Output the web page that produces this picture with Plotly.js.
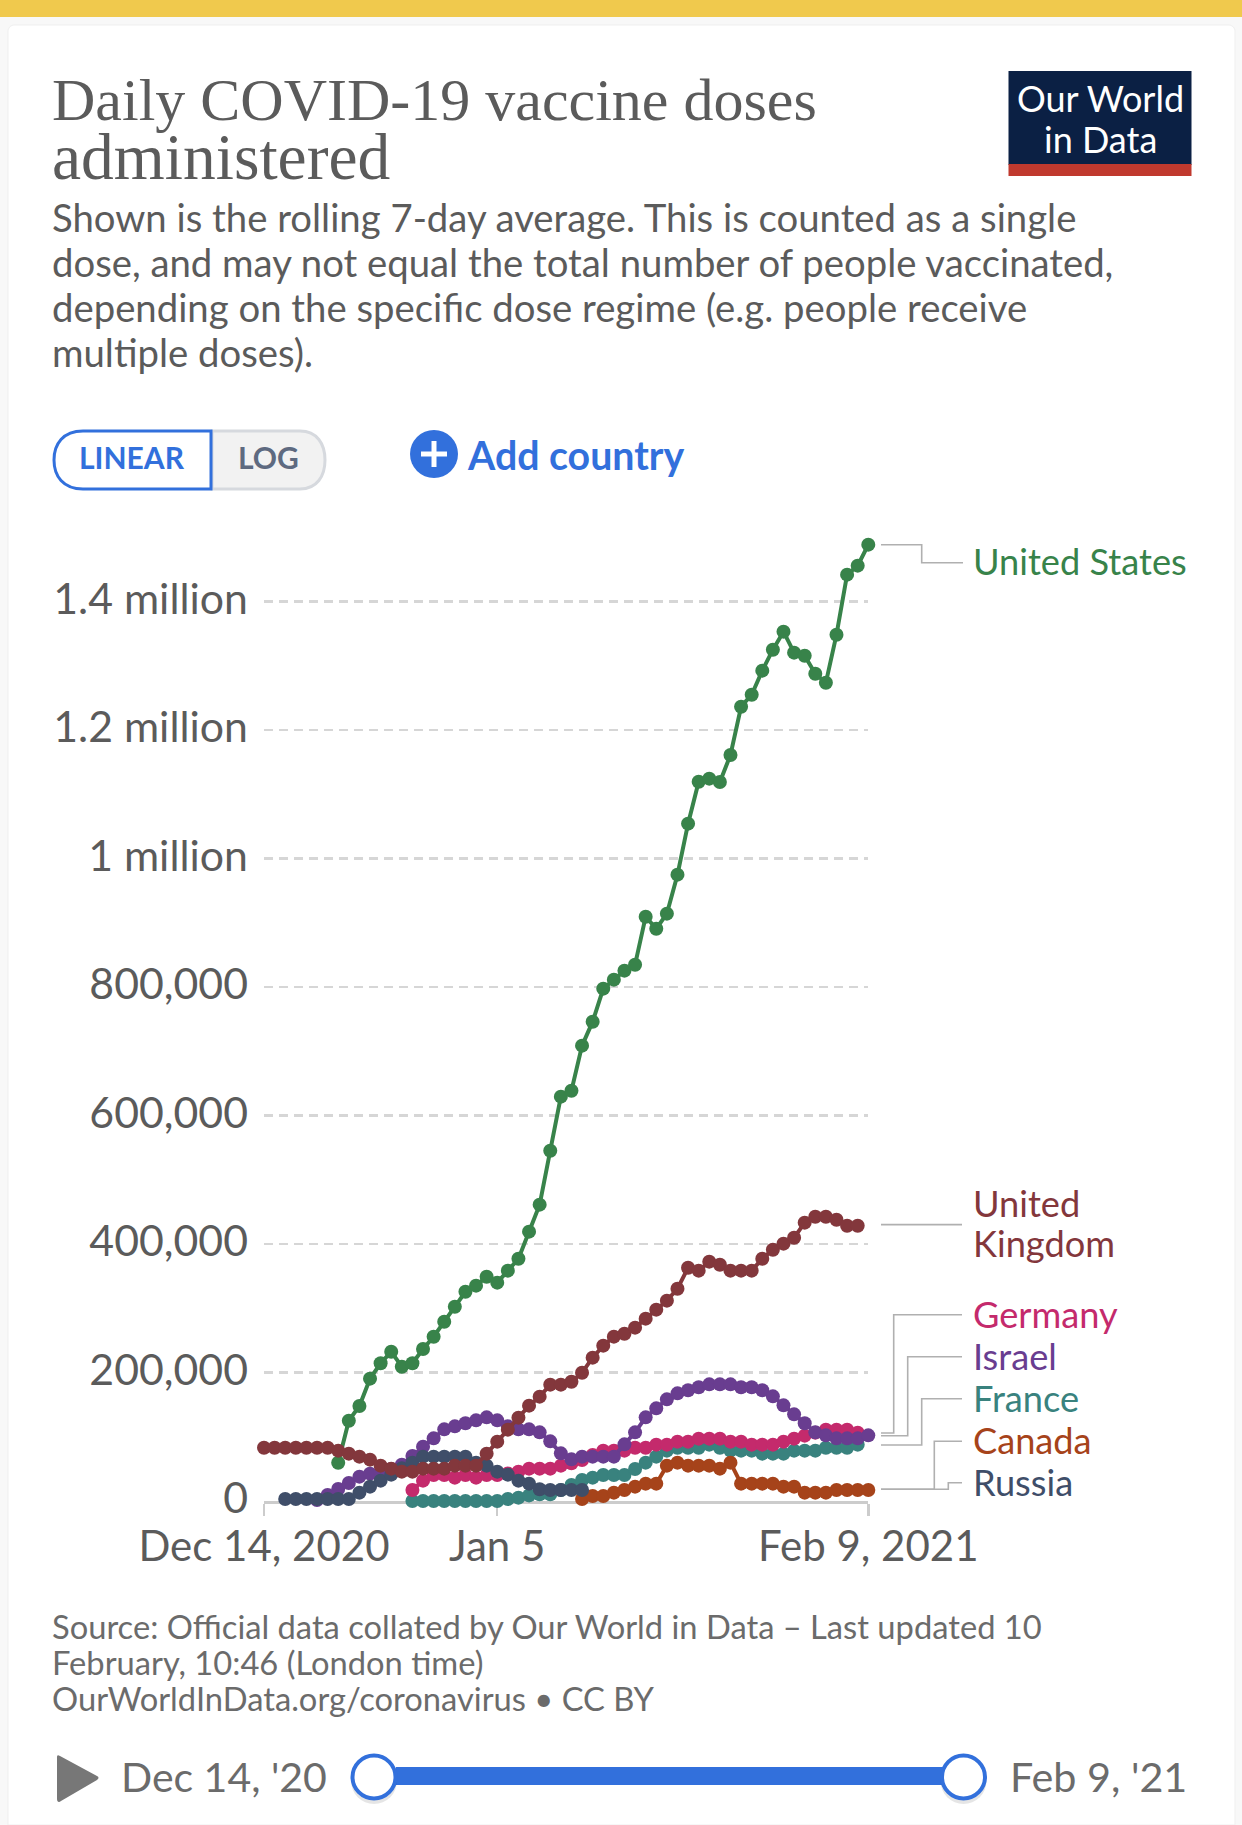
<!DOCTYPE html>
<html><head><meta charset="utf-8">
<script src="https://cdn.plot.ly/plotly-3.0.1.min.js"></script>
<style>html,body{margin:0;padding:0;background:#f8f8f8;overflow:hidden}#c{width:1242px;height:1825px}</style>
</head><body><div id="c"></div>
<script>
const dates=["2020-12-14","2020-12-15","2020-12-16","2020-12-17","2020-12-18","2020-12-19","2020-12-20","2020-12-21","2020-12-22","2020-12-23","2020-12-24","2020-12-25","2020-12-26","2020-12-27","2020-12-28","2020-12-29","2020-12-30","2020-12-31","2021-01-01","2021-01-02","2021-01-03","2021-01-04","2021-01-05","2021-01-06","2021-01-07","2021-01-08","2021-01-09","2021-01-10","2021-01-11","2021-01-12","2021-01-13","2021-01-14","2021-01-15","2021-01-16","2021-01-17","2021-01-18","2021-01-19","2021-01-20","2021-01-21","2021-01-22","2021-01-23","2021-01-24","2021-01-25","2021-01-26","2021-01-27","2021-01-28","2021-01-29","2021-01-30","2021-01-31","2021-02-01","2021-02-02","2021-02-03","2021-02-04","2021-02-05","2021-02-06","2021-02-07","2021-02-08","2021-02-09"];
const n=null;
const unitedStates=[n,n,n,n,n,n,n,59900,125300,148200,190700,214600,232700,209300,214600,236900,256000,279400,302700,326000,335500,349400,340100,358800,377400,419500,461500,545500,629600,638900,709000,746300,797700,811700,825700,835000,909700,891000,914400,975100,1054500,1119800,1124500,1119300,1161400,1236500,1255200,1292600,1325200,1353300,1320600,1315900,1287900,1273900,1348600,1442000,1456000,1488700];
const unitedKingdom=[83300,83300,83300,83300,83300,83300,83300,78650,73980,69300,64640,55300,50630,45960,45960,50630,50630,50630,55300,55300,55300,73980,92650,111330,130000,148700,162700,181370,181370,186000,200000,223400,242100,256100,260700,270100,284100,298100,312100,330700,363400,358800,372800,368100,358800,358800,358800,377400,391400,400800,410100,433500,442800,442800,438100,428800,428800,n];
const germany=[n,n,n,n,n,n,n,n,n,n,n,n,n,n,17430,31960,40780,40780,36630,40780,36630,40780,40780,43000,45960,50630,50630,50630,55300,59000,64100,72000,78650,78650,78650,83300,83300,87980,87980,92650,92650,97330,97330,97330,92650,92650,87980,87980,87980,92650,97330,102000,106660,111330,111330,111330,106660,n];
const israel=[n,n,n,n,n,1870,9650,18990,28330,38180,42850,45000,50100,56850,70350,84870,97850,111860,116520,121200,125860,130530,125860,116520,111860,111860,107190,93180,74500,65160,69300,69300,69300,69300,88510,107190,130530,144540,158550,167890,172560,177230,181890,181890,181890,177230,177230,172560,163220,149210,135200,121200,107190,102520,97850,97850,97850,102520];
const france=[n,n,n,n,n,n,n,n,n,n,n,n,n,n,200,200,200,200,200,200,200,200,200,3420,5500,9000,10700,10700,17430,25200,33000,36630,40780,40780,40780,50120,59970,69300,78650,83300,83300,83300,87980,83300,78650,78650,78650,73980,73980,73980,78650,78650,78650,83300,83300,83300,87980,n];
const canada=[n,n,n,n,n,n,n,n,n,n,n,n,n,n,n,n,n,n,n,n,n,n,n,n,n,n,n,n,n,n,3420,8090,8090,13280,17430,22620,27280,27280,55300,59970,55300,55300,55300,50630,59970,27280,27280,27280,27280,22620,22620,13280,13280,13280,17430,17430,17430,17430];
const russia=[n,n,3420,3420,3420,3420,3420,3420,3420,13280,22620,31960,41290,51150,59970,69300,69300,69300,69300,69300,59970,55300,45960,41290,31960,27280,18500,17430,17430,17430,17430,n,n,n,n,n,n,n,n,n,n,n,n,n,n,n,n,n,n,n,n,n,n,n,n,n,n,n];
const yTicks=[0,200000,400000,600000,800000,1000000,1200000,1400000];
const yTickLabels=["0","200,000","400,000","600,000","800,000","1 million","1.2 million","1.4 million"];
const xTicks=["2020-12-14","2021-01-05","2021-02-09"];
const xTickLabels=["Dec 14, 2020","Jan 5","Feb 9, 2021"];

const W=1242,H=1825;
const X=p=>p/W, Y=p=>1-p/H;
const C={us:"#38834a",uk:"#83373c",de:"#c42a6c",il:"#693d90",fr:"#39827e",ca:"#a6431a",ru:"#3f4e69",text:"#5b5b5b",blue:"#3270dc",conn:"#b0b0b0"};
const tr=(name,y,color)=>({type:"scatter",mode:"lines+markers",name,x:dates,y,connectgaps:false,cliponaxis:false,line:{color,width:4},marker:{color,size:14,line:{width:0}},hoverinfo:"x+y+name"});
const traces=[tr("United States",unitedStates,C.us),tr("France",france,C.fr),tr("Canada",canada,C.ca),tr("Germany",germany,C.de),tr("Israel",israel,C.il),tr("Russia",russia,C.ru),tr("United Kingdom",unitedKingdom,C.uk)];

const LATO="Lato, 'Open Sans', sans-serif", SERIF="'Liberation Serif', serif";
const txt=(text,x,y,size,color,opt={})=>Object.assign({text,x:X(x),y:Y(y),xref:"paper",yref:"paper",showarrow:false,xanchor:"left",yanchor:"middle",borderpad:0,align:"left",font:{family:LATO,size,color}},opt);
const path=(cmds,fill,line,lw)=>({type:"path",xref:"paper",yref:"paper",layer:"below",path:cmds.map(c=>c[0]+c.slice(1).map((v,i)=>i%2==0?X(v):Y(v)).join(",")).join(" ")+" ",fillcolor:fill,line:{color:line||"rgba(0,0,0,0)",width:lw||0}});
const rect=(x0,y0,x1,y1,fill,layer)=>({type:"rect",xref:"paper",yref:"paper",layer:layer||"below",x0:X(x0),x1:X(x1),y0:Y(y0),y1:Y(y1),fillcolor:fill,line:{width:0}});
const circ=(cx,cy,r,fill,line,lw)=>({type:"circle",xref:"paper",yref:"paper",layer:"above",x0:X(cx-r),x1:X(cx+r),y0:Y(cy-r),y1:Y(cy+r),fillcolor:fill,line:{color:line||"rgba(0,0,0,0)",width:lw||0}});
const conn=(pts)=>({type:"path",xref:"paper",yref:"paper",layer:"below",path:pts.map((q,i)=>(i?"L":"M")+X(q[0])+","+Y(q[1])).join(" "),line:{color:C.conn,width:1.6}});

const shapes=[
 rect(0,0,W,17,"#f0c94d"),
 path([["M",14,25],["L",1229,25],["C",1232,25,1235,28,1235,31],["L",1235,1825],["L",8,1825],["L",8,31],["C",8,28,11,25,14,25],["Z"]],"#ffffff","#efefef",1),
 rect(1008.5,71,1191.5,165,"#0b2044"),rect(1008.5,164,1191.5,176,"#c0392e"),
 path([["M",212,431],["L",212,489],["L",300,489],["C",317,489,325,476,325,460],["C",325,444,317,431,300,431],["Z"]],"#f2f2f2","#d6d9de",3),
 path([["M",83,431],["L",211,431],["L",211,489],["L",83,489],["C",63,489,54,476,54,460],["C",54,444,63,431,83,431],["Z"]],"#ffffff",C.blue,3),
 circ(434,454,24,C.blue),
 rect(421,451.5,447,456.5,"#ffffff","above"),rect(431.5,441,436.5,467,"#ffffff","above"),
 conn([[881,544.7],[921.7,544.7],[921.7,562.7],[963,562.7]]),
 conn([[881,1224.6],[962,1224.6]]),
 conn([[881,1433],[893.7,1433],[893.7,1314.7],[962,1314.7]]),
 conn([[881,1435.7],[907.7,1435.7],[907.7,1356.7],[962,1356.7]]),
 conn([[881,1445],[921.7,1445],[921.7,1398.7],[962,1398.7]]),
 conn([[881,1489.3],[934.3,1489.3],[934.3,1441.3],[962,1441.3]]),
 conn([[881,1489.3],[948.3,1489.3],[948.3,1482.7],[962,1482.7]]),
 path([["M",60,1756],["C",57,1754,57,1756,57,1758],["L",57,1799],["C",57,1802,59,1803,61,1801],["L",97,1780],["C",99,1778,99,1777,97,1776],["Z"]],"#777777"),
 rect(396,1767,945,1785,C.blue),
 circ(374,1781,23,"rgba(0,0,0,0.10)"),circ(963.5,1781,23,"rgba(0,0,0,0.10)"),
 circ(374,1777,21.5,"#ffffff",C.blue,4),circ(963.5,1777,21.5,"#ffffff",C.blue,4)
];

const annotations=[
 txt("Daily COVID-19 vaccine doses",51,100,60,C.text,{font:{family:SERIF,size:60,color:C.text}}),
 txt("administered",51,157,65.5,C.text,{font:{family:SERIF,size:65.5,color:C.text}}),
 txt("Our World",1100,98,36,"#ffffff",{xanchor:"center"}),
 txt("in Data",1100,139,36,"#ffffff",{xanchor:"center"}),
 txt("Shown is the rolling 7-day average. This is counted as a single",51,217,38.3,C.text),
 txt("dose, and may not equal the total number of people vaccinated,",51,262,38.3,C.text),
 txt("depending on the specific dose regime (e.g. people receive",51,307,38.3,C.text),
 txt("multiple doses).",51,352,38.3,C.text),
 txt("<b>LINEAR</b>",78,457,30,C.blue),
 txt("<b>LOG</b>",237,457,30,"#5e6a80"),
 txt("<b>Add country</b>",466,455,39.3,C.blue),
 txt("United States",972,561,36.2,C.us),
 txt("United",972,1202.5,36.2,C.uk),
 txt("Kingdom",972,1242.5,36.2,C.uk),
 txt("Germany",972,1313.5,36.2,C.de),
 txt("Israel",972,1355.5,36.2,C.il),
 txt("France",972,1397.5,36.2,C.fr),
 txt("Canada",972,1439.5,36.2,C.ca),
 txt("Russia",972,1481.5,36.2,C.ru),
 txt("Source: Official data collated by Our World in Data – Last updated 10",51,1626,32.7,"#6b6b6b"),
 txt("February, 10:46 (London time)",51,1662,32.7,"#6b6b6b"),
 txt("OurWorldInData.org/coronavirus • CC BY",51,1698,32.7,"#6b6b6b"),
 txt("Dec 14, '20",120,1776,41,"#6b6b6b"),
 txt("Feb 9, '21",1009,1776,41.3,"#6b6b6b")
];

const layout={width:W,height:H,margin:{l:0,r:0,t:0,b:0,pad:0},paper_bgcolor:"#f8f8f8",plot_bgcolor:"rgba(0,0,0,0)",showlegend:false,font:{family:LATO,color:C.text},
 xaxis:{type:"date",domain:[264/W,868.3/W],range:["2020-12-14","2021-02-09"],tickmode:"array",tickvals:xTicks,ticktext:xTickLabels,ticks:"outside",ticklen:12,tickwidth:2.5,tickcolor:"#cccccc",showgrid:false,zeroline:false,showline:true,linecolor:"#cccccc",linewidth:3,layer:"below traces",tickfont:{family:LATO,size:42,color:C.text},ticklabelstandoff:-6,automargin:false},
 yaxis:{domain:[(H-1501.2)/H,(H-537.4)/H],range:[0,1500000],tickmode:"array",tickvals:yTicks,ticktext:yTickLabels,ticks:"",showline:false,zeroline:false,showgrid:true,gridcolor:"#d6d6d6",griddash:"9px,6px",gridwidth:2.5,layer:"below traces",tickfont:{family:LATO,size:42.8,color:C.text},ticklabelstandoff:15,ticklabelshift:-3,automargin:false},
 shapes,annotations};
Plotly.newPlot("c",traces,layout,{displayModeBar:false,staticPlot:true});
</script></body></html>
